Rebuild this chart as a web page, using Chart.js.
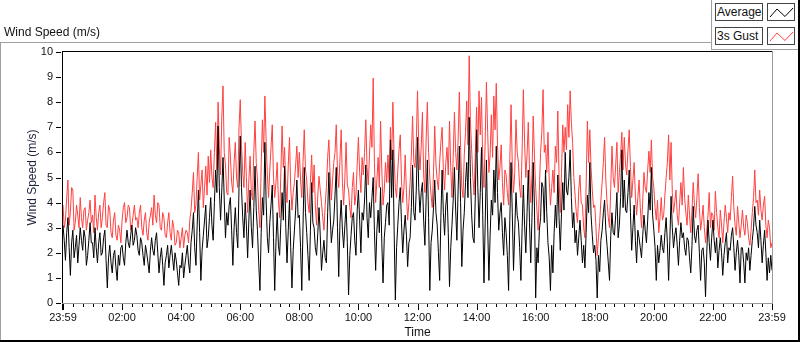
<!DOCTYPE html>
<html>
<head>
<meta charset="utf-8">
<script src="https://cdn.jsdelivr.net/npm/chart.js@4.4.1/dist/chart.umd.min.js"></script>
<style>
  html, body { margin: 0; padding: 0; background: #fff; }
  #wrap { position: relative; width: 800px; height: 342px; overflow: hidden;
          font-family: "Liberation Sans", Arial, sans-serif; color: #111; }
  #chart { position: absolute; left: 0; top: 0; }
  .title { position: absolute; left: 4px; top: 25px; font-size: 12px; line-height: 14px; white-space: nowrap; }
  .line { position: absolute; }
  .lg-text { position: absolute; left: 715px; width: 45px; height: 16px; border: 1px solid #444;
             font-size: 12px; line-height: 16px; padding-left: 1px; background: #fff; white-space: nowrap; }
  .lg-icon { position: absolute; left: 767px; width: 26px; height: 16px; border: 1px solid #444; background: #fff; }
</style>
</head>
<body>
<div id="wrap">
  <canvas id="chart" width="800" height="342"></canvas>

  <div class="title">Wind Speed (m/s)</div>

  <!-- panel frame -->
  <div class="line" style="left:0;top:42px;width:712px;height:1px;background:#a0a0a0"></div>
  <div class="line" style="left:0;top:42px;width:1px;height:300px;background:#a0a0a0"></div>
  <div class="line" style="left:711px;top:0;width:1px;height:50px;background:#a0a0a0"></div>
  <div class="line" style="left:711px;top:49px;width:88px;height:1px;background:#a0a0a0"></div>
  <div class="line" style="left:798px;top:0;width:2px;height:342px;background:#000"></div>
  <div class="line" style="left:0;top:340px;width:800px;height:2px;background:#000"></div>

  <!-- legend -->
  <div class="lg-text" style="top:3px">Average</div>
  <div class="lg-icon" style="top:3px">
    <svg width="26" height="16"><polyline points="2,13 9,5 17,12.5 25,4" fill="none" stroke="#000" stroke-width="1"/></svg>
  </div>
  <div class="lg-text" style="top:27px">3s Gust</div>
  <div class="lg-icon" style="top:27px">
    <svg width="26" height="16"><polyline points="2,13 9,5 17,12.5 25,4" fill="none" stroke="#ff4040" stroke-width="1"/></svg>
  </div>
</div>

<script>
// one reading every 2.5 minutes, starting 23:59 (previous day); one row per hour
const stepMinutes = 2.5;

const gust = [
  3.9, 3.0, 3.3, 4.2, 4.9, 3.1, 3.6, 4.6, 4.5, 2.9, 3.2, 3.9, 3.5, 3.0, 4.2, 3.4, 3.0, 3.7, 3.8, 2.9, 3.3, 3.6, 4.1, 3.2,
  3.5, 2.8, 4.3, 3.4, 2.9, 3.6, 3.9, 3.0, 3.4, 4.0, 4.4, 3.1, 3.0, 3.9, 3.7, 2.8, 2.6, 3.3, 3.6, 2.7, 2.5, 3.1, 2.9, 2.4,
  3.3, 3.8, 4.0, 3.2, 3.4, 3.9, 3.8, 2.9, 3.1, 3.5, 3.9, 3.3, 3.4, 3.0, 3.6, 3.9, 3.0, 2.7, 3.3, 3.6, 2.8, 2.5, 3.2, 3.5,
  3.8, 3.1, 4.3, 3.5, 3.2, 4.0, 3.9, 3.0, 2.9, 3.6, 3.4, 2.7, 2.6, 3.2, 3.6, 2.8, 2.5, 3.3, 3.0, 2.3, 2.4, 2.9, 2.8, 2.2,
  2.6, 3.0, 2.2, 2.7, 2.9, 2.8, 2.4, 3.3, 3.7, 4.4, 5.2, 3.6, 3.9, 5.0, 6.0, 4.1, 4.7, 5.3, 3.8, 4.6, 5.45, 4.3, 5.85, 4.8,
  6.1, 5.0, 4.6, 6.0, 7.2, 5.3, 8.0, 6.2, 5.1, 7.4, 8.65, 6.0, 5.5, 4.4, 4.3, 6.6, 5.85, 4.8, 4.4, 5.6, 6.4, 5.0, 4.6, 7.0,
  8.1, 6.3, 5.2, 4.6, 6.4, 5.0, 3.6, 4.9, 5.85, 4.4, 4.1, 6.0, 7.25, 5.6, 4.9, 3.7, 3.0, 5.5, 7.3, 6.0, 8.25, 6.5, 5.1, 4.2,
  5.3, 6.2, 7.1, 5.0, 4.2, 4.8, 5.6, 4.1, 3.4, 5.2, 7.05, 5.4, 6.2, 4.7, 4.0, 5.5, 6.6, 4.6, 3.7, 4.4, 4.8, 5.5, 6.25, 5.0,
  6.0, 4.9, 4.2, 5.6, 6.9, 5.3, 4.9, 4.0, 3.6, 4.8, 5.9, 4.4, 5.5, 3.9, 3.1, 4.3, 5.05, 4.5, 4.0, 3.4, 2.9, 3.9, 4.6, 5.8,
  6.5, 5.1, 4.1, 4.9, 5.6, 6.0, 7.1, 5.2, 4.6, 5.7, 6.9, 4.8, 3.9, 5.0, 6.4, 4.7, 4.5, 3.8, 3.4, 4.6, 5.2, 3.9, 4.3, 5.5,
  6.6, 5.2, 4.4, 5.8, 5.1, 6.0, 7.3, 5.4, 4.7, 5.9, 7.1, 6.2, 8.96, 5.6, 4.0, 4.9, 5.8, 4.6, 7.25, 5.3, 3.9, 4.5, 5.6, 4.8,
  5.9, 4.8, 7.0, 5.7, 8.0, 5.8, 4.6, 4.2, 5.3, 6.1, 6.7, 4.9, 4.0, 4.6, 5.9, 4.4, 3.3, 4.0, 4.8, 5.9, 7.45, 5.6, 5.4, 6.4,
  8.45, 6.3, 5.3, 6.2, 7.6, 5.1, 4.4, 6.5, 8.0, 6.0, 5.0, 4.3, 3.8, 5.2, 7.05, 5.5, 4.9, 4.5, 5.6, 6.4, 7.0, 5.3, 4.5, 5.6,
  6.2, 5.1, 7.25, 5.4, 4.2, 5.8, 7.6, 6.0, 5.3, 6.5, 8.4, 6.2, 4.6, 4.2, 5.9, 6.8, 8.05, 6.3, 9.85, 7.2, 6.1, 5.0, 4.3, 6.0,
  7.8, 6.0, 8.45, 6.7, 8.2, 5.6, 4.6, 6.5, 8.8, 6.8, 5.2, 5.9, 7.5, 5.8, 8.25, 6.9, 8.75, 6.3, 4.9, 5.4, 6.3, 4.8, 3.9, 5.3,
  5.1, 4.4, 3.9, 5.7, 7.9, 5.5, 4.4, 5.2, 7.3, 6.0, 5.6, 4.6, 4.2, 6.1, 8.5, 6.4, 5.0, 5.9, 7.2, 5.3, 4.0, 5.1, 7.45, 5.9,
  4.6, 3.7, 2.9, 4.5, 6.0, 6.8, 8.5, 6.0, 6.3, 5.2, 6.8, 4.9, 3.9, 4.6, 5.3, 4.4, 6.25, 5.6, 7.65, 5.0, 3.6, 5.2, 7.1, 6.0,
  7.0, 6.1, 7.9, 6.6, 8.45, 7.2, 6.4, 5.0, 4.3, 3.6, 3.2, 4.5, 5.1, 4.0, 3.9, 3.0, 2.6, 4.7, 7.25, 5.6, 6.9, 5.4, 4.5, 3.8,
  3.9, 3.0, 1.9, 2.6, 3.2, 4.1, 4.8, 5.6, 6.6, 4.9, 4.0, 3.4, 3.0, 4.6, 6.25, 5.0, 4.6, 5.5, 6.4, 4.4, 5.2, 5.9, 6.8, 5.3,
  6.6, 5.5, 5.1, 6.1, 6.9, 5.4, 4.2, 4.9, 5.6, 4.3, 3.5, 4.2, 4.9, 3.8, 3.0, 4.1, 5.2, 4.6, 4.4, 5.3, 6.05, 5.2, 6.5, 5.0,
  4.6, 3.8, 3.3, 4.1, 2.8, 3.4, 4.2, 3.3, 3.5, 4.3, 5.0, 5.6, 6.7, 4.9, 6.4, 4.4, 3.6, 4.0, 4.5, 3.5, 3.1, 4.0, 4.8, 3.9,
  5.4, 4.2, 3.6, 3.1, 4.3, 3.5, 2.8, 3.7, 4.8, 3.9, 3.4, 4.2, 5.15, 3.8, 2.9, 3.3, 3.9, 3.0, 2.4, 2.9, 3.5, 4.4, 3.0, 3.6,
  3.5, 2.9, 4.45, 3.6, 3.0, 2.6, 3.7, 3.1, 2.4, 3.2, 3.9, 3.4, 2.8, 3.6, 3.3, 4.2, 5.05, 3.8, 3.1, 2.7, 3.85, 3.2, 2.6, 3.1,
  3.7, 3.0, 2.7, 3.5, 3.2, 2.6, 2.3, 2.9, 3.6, 4.2, 5.3, 4.0, 4.1, 3.5, 4.5, 3.7, 3.3, 3.9, 4.25, 3.1, 2.6, 3.3, 3.0, 2.2,
  2.4
];

const average = [
  3.1, 2.5, 1.7, 2.8, 3.4, 2.2, 1.1, 2.4, 2.9, 1.8, 2.2, 2.7, 1.6, 2.3, 3.0, 2.5, 2.1, 2.9, 2.6, 1.5, 1.9, 2.5, 3.2, 2.4,
  2.4, 1.8, 3.0, 2.2, 1.6, 2.4, 2.8, 1.9, 2.0, 2.6, 2.9, 1.7, 0.6, 1.8, 2.3, 1.6, 1.2, 1.9, 2.1, 1.4, 0.9, 1.9, 1.5, 2.2,
  2.3, 1.8, 1.5, 2.4, 2.9, 2.4, 2.2, 2.7, 3.1, 2.3, 2.5, 3.0, 2.7, 2.1, 1.9, 2.6, 2.4, 1.9, 1.5, 2.3, 2.0, 1.6, 1.2, 2.1,
  2.6, 2.1, 1.9, 2.5, 2.8, 2.0, 1.2, 1.8, 2.2, 1.5, 0.7, 1.6, 1.9, 2.3, 1.4, 1.9, 2.3, 1.8, 1.3, 2.0, 1.7, 1.2, 0.7, 1.5,
  1.4, 2.0, 1.0, 1.5, 1.9, 2.3, 1.6, 1.2, 2.4, 2.9, 3.6, 2.2, 1.5, 3.1, 4.5, 2.8, 0.9, 2.1, 2.7, 3.3, 3.9, 2.2, 2.6, 3.4,
  4.2, 3.1, 2.5, 4.0, 5.3, 4.4, 7.05, 4.6, 3.3, 4.5, 5.8, 4.1, 2.6, 3.6, 3.1, 3.9, 4.2, 2.9, 1.5, 3.0, 3.8, 2.8, 2.2, 4.6,
  6.65, 4.6, 3.4, 2.6, 4.0, 3.1, 1.8, 3.3, 4.5, 3.0, 2.2, 3.8, 5.45, 3.7, 2.9, 1.6, 0.5, 2.8, 4.2, 3.5, 6.4, 4.1, 2.6, 2.0,
  3.2, 3.9, 4.7, 2.6, 0.5, 2.4, 3.6, 2.3, 1.9, 3.2, 4.4, 3.3, 5.45, 3.0, 1.6, 2.9, 4.1, 2.2, 0.6, 2.1, 2.9, 3.7, 4.9, 3.4,
  3.5, 2.2, 0.5, 3.1, 5.4, 3.6, 2.8, 1.9, 0.9, 2.9, 4.8, 3.2, 3.0, 2.2, 1.9, 2.8, 3.8, 2.7, 1.3, 2.0, 2.5, 1.8, 1.6, 3.6,
  5.2, 3.6, 2.4, 2.9, 3.3, 4.3, 5.4, 3.0, 1.05, 3.2, 4.1, 2.9, 2.2, 3.1, 3.9, 2.4, 0.32, 1.9, 2.7, 3.4, 3.6, 2.5, 1.9, 3.7,
  4.5, 3.3, 2.0, 3.6, 3.3, 4.1, 5.5, 3.4, 2.6, 4.0, 3.4, 4.2, 5.0, 2.9, 1.3, 2.9, 3.7, 2.8, 4.6, 2.4, 0.8, 2.6, 3.2, 3.9,
  4.0, 3.1, 6.5, 4.2, 6.1, 2.9, 0.12, 2.2, 3.1, 4.0, 4.6, 3.2, 2.0, 2.9, 3.5, 2.7, 1.45, 2.4, 2.6, 3.8, 5.5, 3.6, 3.3, 4.5,
  6.6, 4.6, 3.6, 4.4, 4.8, 3.3, 2.3, 4.1, 5.7, 3.4, 0.5, 2.4, 2.9, 3.8, 4.9, 3.6, 3.1, 2.0, 0.9, 3.4, 5.3, 3.6, 2.7, 3.9,
  4.4, 2.8, 0.65, 2.2, 3.1, 4.1, 5.4, 3.7, 2.5, 4.5, 6.25, 4.0, 1.45, 2.9, 3.6, 4.8, 5.6, 4.2, 7.4, 5.0, 3.5, 2.6, 2.4, 4.3,
  6.9, 4.6, 3.0, 4.4, 6.2, 3.5, 0.8, 3.2, 5.7, 3.1, 0.9, 2.7, 4.1, 3.5, 5.3, 4.0, 6.25, 4.4, 2.9, 3.6, 4.0, 2.8, 1.9, 3.4,
  2.8, 1.9, 0.5, 3.3, 5.6, 3.6, 1.3, 2.9, 4.4, 3.5, 3.2, 2.2, 0.9, 3.0, 4.7, 3.1, 2.0, 3.6, 5.3, 3.2, 1.6, 3.4, 5.6, 3.9,
  0.2, 2.2, 1.6, 2.9, 3.4, 4.8, 4.6, 3.2, 5.3, 3.6, 2.4, 1.8, 0.5, 2.3, 1.2, 2.8, 3.9, 3.0, 5.1, 3.4, 2.1, 3.6, 4.8, 3.7,
  6.0, 4.5, 4.3, 5.0, 6.1, 4.2, 3.0, 3.6, 2.4, 2.9, 1.9, 2.6, 3.3, 2.5, 1.6, 2.3, 1.4, 2.8, 4.3, 3.6, 5.6, 3.5, 2.7, 2.0,
  2.3, 1.7, 0.2, 1.9, 1.25, 2.5, 2.9, 3.6, 4.1, 2.9, 2.3, 1.6, 0.9, 2.7, 3.6, 2.8, 2.7, 3.5, 4.4, 2.6, 3.1, 4.2, 6.1, 3.8,
  4.9, 3.7, 3.6, 4.4, 5.3, 3.6, 2.1, 3.0, 3.9, 2.5, 1.6, 2.9, 2.6, 2.2, 1.8, 2.7, 3.5, 2.9, 2.4, 3.3, 4.4, 3.7, 5.4, 3.5,
  2.9, 2.2, 0.9, 2.3, 1.6, 2.1, 2.7, 2.2, 2.0, 2.8, 3.4, 2.4, 0.9, 2.5, 4.25, 3.0, 2.2, 2.7, 3.0, 2.3, 1.5, 2.5, 3.2, 2.6,
  2.8, 2.2, 1.9, 2.6, 2.5, 1.8, 1.2, 2.3, 3.85, 2.7, 2.4, 2.9, 3.1, 2.0, 0.9, 2.1, 2.2, 1.6, 0.25, 2.0, 3.3, 2.4, 1.7, 2.6,
  3.3, 2.5, 2.0, 2.6, 1.4, 2.1, 2.6, 2.0, 1.1, 1.9, 2.4, 2.8, 1.6, 2.2, 2.1, 2.7, 3.0, 2.2, 1.3, 2.0, 2.5, 1.9, 0.8, 2.2,
  2.2, 1.6, 0.8, 2.0, 1.7, 2.2, 1.3, 1.9, 2.5, 3.0, 3.85, 3.1, 2.8, 2.2, 3.3, 2.5, 1.6, 2.3, 2.9, 2.0, 0.9, 1.8, 1.2, 1.9,
  1.3
];

// axis ticks (minutes from start)
const xLabelStep = 120;
const xMinorStep = 20;
const xMax = 1440;
const yTicks = [0, 1, 2, 3, 4, 5, 6, 7, 8, 9, 10];

function toPoints(arr) {
  return arr.map((v, i) => ({ x: i * stepMinutes, y: v }));
}

function timeLabel(m) {
  if (m === 0 || m === xMax) return '23:59';
  const h = Math.round(m / 60);
  return (h < 10 ? '0' : '') + h + ':00';
}

const framePlugin = {
  id: 'frame',
  afterDatasetsDraw(chart) {
    const { ctx, chartArea: a, scales: { x, y } } = chart;
    ctx.save();
    ctx.fillStyle = '#000';
    ctx.fillRect(a.left - 1, a.top - 1, a.right - a.left + 1, 1);
    ctx.fillRect(a.left - 1, a.top - 1, 1, a.bottom - a.top + 2);
    ctx.fillStyle = '#9a9a9a';
    ctx.fillRect(a.left - 1, a.bottom, a.right - a.left + 2, 1);
    ctx.fillRect(a.right, a.top - 1, 1, a.bottom - a.top + 2);

    ctx.fillStyle = '#000';
    yTicks.forEach(v => {
      const py = Math.round(y.getPixelForValue(v));
      ctx.fillRect(a.left - 7, py, 5, 1);
    });
    for (let m = 0; m <= xMax; m += xMinorStep) {
      const px = Math.round(x.getPixelForValue(m));
      if (m % xLabelStep === 0) {
        ctx.fillRect(m === 0 ? px - 1 : px, a.bottom + 1, m === 0 ? 2 : 1, 6);
      } else {
        ctx.fillRect(px, a.bottom + 1, 1, 3);
      }
    }
    ctx.restore();
  }
};

const font11 = { family: '"Liberation Sans", Arial, sans-serif', size: 11 };
const font12 = { family: '"Liberation Sans", Arial, sans-serif', size: 12 };

new Chart(document.getElementById('chart').getContext('2d'), {
  type: 'line',
  data: {
    datasets: [
      { label: 'Average', data: toPoints(average), borderColor: '#000', borderWidth: 1,
        pointRadius: 0, tension: 0 },
      { label: '3s Gust', data: toPoints(gust), borderColor: '#ff4040', borderWidth: 1,
        pointRadius: 0, tension: 0 }
    ]
  },
  options: {
    responsive: false,
    animation: false,
    layout: { padding: { left: 0, top: 52, right: 28, bottom: 0 } },
    plugins: { legend: { display: false }, tooltip: { enabled: false } },
    scales: {
      x: {
        type: 'linear',
        min: 0,
        max: xMax,
        afterFit: s => { s.height = 39; },
        grid: { display: false, drawTicks: false },
        border: { display: false },
        ticks: {
          stepSize: xLabelStep,
          maxTicksLimit: 20,
          autoSkip: false,
          maxRotation: 0,
          padding: 8,
          color: '#111',
          font: font11,
          callback: v => timeLabel(v)
        },
        title: {
          display: true,
          text: 'Time',
          color: '#111',
          padding: { top: 0, bottom: 2 },
          font: font12
        }
      },
      y: {
        min: 0,
        max: 10,
        afterFit: s => { s.width = 63; },
        grid: { display: false, drawTicks: false },
        border: { display: false },
        ticks: {
          stepSize: 1,
          padding: 10,
          color: '#111',
          font: font11
        },
        title: {
          display: true,
          text: 'Wind Speed (m/s)',
          color: '#1c2238',
          padding: { top: 25, bottom: 0 },
          font: font12
        }
      }
    }
  },
  plugins: [framePlugin]
});
</script>
</body>
</html>
